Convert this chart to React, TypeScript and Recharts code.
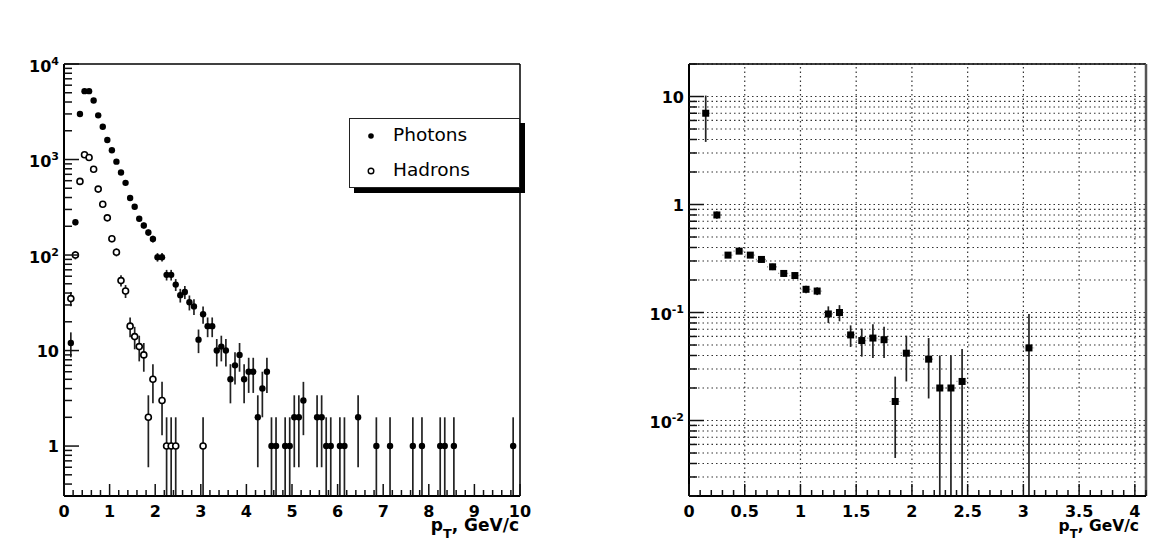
import React from "react";
import { ScatterChart, Scatter, XAxis, YAxis, ErrorBar, ReferenceLine, CartesianGrid } from "recharts";

const FONT = "'DejaVu Sans', Verdana, sans-serif";

// left panel: pT spectra, counts per 0.1 GeV/c bin
const photonPt = [
  0.15, 0.25, 0.35, 0.45, 0.55, 0.65, 0.75, 0.85, 0.95, 1.05, 1.15, 1.25, 1.35, 1.45, 1.55, 1.65, 1.75, 1.85, 1.95,
  2.05, 2.15, 2.25, 2.35, 2.45, 2.55, 2.65, 2.75, 2.85, 2.95, 3.05, 3.15, 3.25, 3.35, 3.45, 3.55, 3.65, 3.75, 3.85,
  3.95, 4.05, 4.15, 4.25, 4.35, 4.45, 4.55, 4.65, 4.85, 4.95, 5.05, 5.15, 5.25, 5.55, 5.65, 5.75, 5.85, 6.05, 6.15,
  6.45, 6.85, 7.15, 7.65, 7.85, 8.25, 8.35, 8.55, 9.85,
];
const photonCounts = [
  12, 220, 3000, 5200, 5200, 4150, 2900, 2200, 1600, 1250, 950, 730, 570, 395, 320, 240, 204, 172, 147,
  95, 95, 62, 62, 49, 38, 41, 32, 29, 13, 24, 18, 18, 10, 11, 10, 5, 7, 9,
  5, 6, 6, 2, 4, 6, 1, 1, 1, 1, 2, 2, 3, 2, 2, 1, 1, 1, 1,
  2, 1, 1, 1, 1, 1, 1, 1, 1,
];
const photonErr = [
  3.5, 14.8, 55, 72, 72, 64, 54, 47, 40, 35, 31, 27, 24, 20, 18, 15.5, 14.3, 13.1, 12.1,
  9.7, 9.7, 7.9, 7.9, 7, 6.2, 6.4, 5.7, 5.4, 3.6, 4.9, 4.2, 4.2, 3.2, 3.3, 3.2, 2.2, 2.6, 3,
  2.2, 2.4, 2.4, 1.4, 2, 2.4, 1, 1, 1, 1, 1.4, 1.4, 1.7, 1.4, 1.4, 1, 1, 1, 1,
  1.4, 1, 1, 1, 1, 1, 1, 1, 1,
];

const hadronPt = [
  0.15, 0.25, 0.35, 0.45, 0.55, 0.65, 0.75, 0.85, 0.95, 1.05, 1.15, 1.25, 1.35, 1.45, 1.55, 1.65, 1.75, 1.85, 1.95,
  2.15, 2.25, 2.35, 2.45, 3.05,
];
const hadronCounts = [35, 100, 590, 1120, 1050, 790, 490, 340, 245, 148, 107, 54, 42, 18, 14, 11, 9, 2, 5, 3, 1, 1, 1, 1];
const hadronErr = [5.9, 10, 24, 33, 32, 28, 22, 18, 15.7, 12.2, 10.3, 7.3, 6.5, 4.2, 3.7, 3.3, 3, 1.4, 2.2, 1.7, 1, 1, 1, 1];

// right panel: ratio
const ratioPt = [
  0.15, 0.25, 0.35, 0.45, 0.55, 0.65, 0.75, 0.85, 0.95, 1.05, 1.15, 1.25, 1.35, 1.45, 1.55, 1.65, 1.75, 1.85, 1.95,
  2.15, 2.25, 2.35, 2.45, 3.05,
];
const ratioVal = [
  7, 0.8, 0.34, 0.37, 0.34, 0.31, 0.265, 0.23, 0.22, 0.164, 0.158, 0.097, 0.1, 0.062, 0.055, 0.058, 0.056, 0.015, 0.042,
  0.037, 0.02, 0.02, 0.023, 0.047,
];
const ratioErr = [
  3.2, 0.06, 0.02, 0.02, 0.02, 0.02, 0.018, 0.016, 0.016, 0.013, 0.013, 0.017, 0.017, 0.014, 0.016, 0.02, 0.018, 0.0105,
  0.019, 0.021, 0.02, 0.02, 0.023, 0.05,
];

// tick labels
const leftXMajor = [0, 1, 2, 3, 4, 5, 6, 7, 8, 9, 10];
const leftXLabels = ["0", "1", "2", "3", "4", "5", "6", "7", "8", "9", "10"];
const leftYMajor = [1, 10, 100, 1000, 10000];
const leftYBase = ["1", "10", "10", "10", "10"];
const leftYExp = ["", "", "2", "3", "4"];
const rightXMajor = [0, 0.5, 1, 1.5, 2, 2.5, 3, 3.5, 4];
const rightXLabels = ["0", "0.5", "1", "1.5", "2", "2.5", "3", "3.5", "4"];
const rightYMajor = [0.01, 0.1, 1, 10];
const rightYBase = ["10", "10", "1", "10"];
const rightYExp = ["-2", "-1", "", ""];

const LEFT_Y = [0.3, 10000];
const RIGHT_Y = [0.002, 20];

function logTicks(min: number, max: number) {
  const out: number[] = [];
  for (let e = -4; e <= 4; e++)
    for (let m = 1; m <= 9; m++) {
      const v = +(m * Math.pow(10, e)).toPrecision(6);
      if (v >= min * 0.999 && v <= max * 1.001) out.push(v);
    }
  return out;
}
function linTicks(min: number, max: number, step: number) {
  const out: number[] = [];
  for (let i = 0; min + i * step <= max + 1e-9; i++) out.push(+(min + i * step).toFixed(4));
  return out;
}
const idx = (arr: number[], v: number) => arr.findIndex((a) => Math.abs(a - v) <= Math.abs(a) * 1e-6 + 1e-9);

function rows(xs: number[], ys: number[], errs: number[], ymin: number) {
  return xs.map((x, i) => ({
    x,
    y: ys[i],
    errY: [Math.min(errs[i], ys[i] - ymin), errs[i]],
    errX: 0.05,
  }));
}

const photonRows = rows(photonPt, photonCounts, photonErr, LEFT_Y[0]);
const hadronRows = rows(hadronPt, hadronCounts, hadronErr, LEFT_Y[0]);
const ratioRows = rows(ratioPt, ratioVal, ratioErr, RIGHT_Y[0]);

function makeYTick(major: number[], base: string[], exp: string[]) {
  return (props: any) => {
    const { x, y, payload } = props;
    const i = idx(major, payload.value);
    const isMajor = i >= 0;
    return (
      <g>
        <line x1={x} x2={x + (isMajor ? 15 : 8)} y1={y} y2={y} stroke="#111" strokeWidth={1.5} />
        {isMajor && (
          <text x={x - 5} y={y + (exp[i] ? 7.5 : 6)} textAnchor="end" fontFamily={FONT} fontWeight="bold" fontSize={16} fill="#000">
            {base[i]}
            {exp[i] && (
              <tspan dy={-7} fontSize={11}>
                {exp[i]}
              </tspan>
            )}
          </text>
        )}
      </g>
    );
  };
}

function makeXTick(major: number[], labels: string[]) {
  return (props: any) => {
    const { x, y, payload } = props;
    const i = idx(major, payload.value);
    const isMajor = i >= 0;
    return (
      <g>
        <line x1={x} x2={x} y1={y} y2={y - (isMajor ? 12 : 6)} stroke="#111" strokeWidth={1.5} />
        {isMajor && (
          <text x={x} y={y + 21} textAnchor="middle" fontFamily={FONT} fontWeight="bold" fontSize={16} fill="#000">
            {labels[i]}
          </text>
        )}
      </g>
    );
  };
}

function PtTitle(props: any) {
  const { viewBox, size, dx } = props;
  const x = viewBox.x + viewBox.width + dx;
  const y = viewBox.y + 35;
  return (
    <text x={x} y={y} textAnchor="end" fontFamily={FONT} fontWeight="bold" fontSize={size} fill="#000">
      p
      <tspan dy={7} fontSize={size * 0.75}>
        T
      </tspan>
      <tspan dy={-7}>, GeV/c</tspan>
    </text>
  );
}

const filledDot = (p: any) => <circle cx={p.cx} cy={p.cy} r={3.2} fill="#000" />;
const openDot = (p: any) => <circle cx={p.cx} cy={p.cy} r={3} fill="#fff" stroke="#000" strokeWidth={1.6} />;
const square = (p: any) => <rect x={p.cx - 3.5} y={p.cy - 3.5} width={7} height={7} fill="#000" />;

export default function App() {
  return (
    <div style={{ position: "absolute", left: 0, top: 0, width: 1150, height: 544, background: "#fff", overflow: "hidden" }}>
      <div style={{ position: "absolute", left: 0, top: 0 }}>
        <ScatterChart width={560} height={544} margin={{ top: 64, right: 40, bottom: 8, left: 8 }}>
          <XAxis
            type="number"
            dataKey="x"
            domain={[0, 10]}
            ticks={linTicks(0, 10, 0.2)}
            interval={0}
            tickSize={0}
            tickMargin={0}
            tickLine={false}
            height={40}
            axisLine={{ stroke: "#000", strokeWidth: 2 }}
            tick={makeXTick(leftXMajor, leftXLabels)}
            label={<PtTitle size={17} dx={-1} />}
          />
          <YAxis
            type="number"
            dataKey="y"
            scale="log"
            domain={LEFT_Y}
            allowDataOverflow
            ticks={logTicks(0.4, 10000)}
            interval={0}
            tickSize={0}
            tickMargin={0}
            tickLine={false}
            width={56}
            axisLine={{ stroke: "#000", strokeWidth: 2 }}
            tick={makeYTick(leftYMajor, leftYBase, leftYExp)}
          />
          <ReferenceLine y={10000} stroke="#000" strokeWidth={1.5} />
          <ReferenceLine x={10} stroke="#000" strokeWidth={1.5} />
          <Scatter data={hadronRows} dataKey="y" shape={openDot} isAnimationActive={false}>
            <ErrorBar dataKey="errY" direction="y" width={0} stroke="#222" strokeWidth={1.7} />
          </Scatter>
          <Scatter data={photonRows} dataKey="y" shape={filledDot} isAnimationActive={false}>
            <ErrorBar dataKey="errY" direction="y" width={0} stroke="#222" strokeWidth={1.7} />
          </Scatter>
        </ScatterChart>
      </div>

      {/* legend */}
      <div
        style={{
          position: "absolute",
          left: 349,
          top: 118,
          width: 171,
          height: 70,
          boxSizing: "border-box",
          border: "1.2px solid #222",
          background: "#fff",
          boxShadow: "5px 5px 0 #000",
        }}
      >
        <svg width={171} height={70} style={{ position: "absolute", left: -1, top: -1 }}>
          <circle cx={22} cy={18} r={2.8} fill="#000" />
          <text x={44} y={23} fontFamily={FONT} fontSize={18.5} fill="#000">
            Photons
          </text>
          <circle cx={22} cy={53} r={2.8} fill="#fff" stroke="#000" strokeWidth={1.4} />
          <text x={44} y={58} fontFamily={FONT} fontSize={18.5} fill="#000">
            Hadrons
          </text>
        </svg>
      </div>

      <div style={{ position: "absolute", left: 560, top: 0 }}>
        <ScatterChart width={590} height={544} margin={{ top: 64, right: 4, bottom: 8, left: 69 }}>
          <CartesianGrid vertical={false} stroke="#333" strokeDasharray="1.5 3" strokeWidth={1.2} />
          {rightXMajor.slice(1).map((v) => (
            <ReferenceLine key={v} x={v} stroke="#333" strokeDasharray="1.5 3" strokeWidth={1.2} />
          ))}
          <XAxis
            type="number"
            dataKey="x"
            domain={[0, 4.1]}
            ticks={linTicks(0, 4.1, 0.1)}
            interval={0}
            tickSize={0}
            tickMargin={0}
            tickLine={false}
            height={40}
            axisLine={{ stroke: "#000", strokeWidth: 2 }}
            tick={makeXTick(rightXMajor, rightXLabels)}
            label={<PtTitle size={15.5} dx={-7} />}
          />
          <YAxis
            type="number"
            dataKey="y"
            scale="log"
            domain={RIGHT_Y}
            allowDataOverflow
            ticks={logTicks(0.002, 20)}
            interval={0}
            tickSize={0}
            tickMargin={0}
            tickLine={false}
            width={60}
            axisLine={{ stroke: "#000", strokeWidth: 2 }}
            tick={makeYTick(rightYMajor, rightYBase, rightYExp)}
          />
          <ReferenceLine y={20} stroke="#000" strokeWidth={1.5} />
          <ReferenceLine x={4.1} stroke="#555" strokeWidth={2.5} />
          <Scatter data={ratioRows} dataKey="y" shape={square} isAnimationActive={false}>
            <ErrorBar dataKey="errX" direction="x" width={0} stroke="#888" strokeDasharray="1 2" strokeWidth={1.2} />
            <ErrorBar dataKey="errY" direction="y" width={0} stroke="#222" strokeWidth={1.7} />
          </Scatter>
        </ScatterChart>
      </div>
    </div>
  );
}
